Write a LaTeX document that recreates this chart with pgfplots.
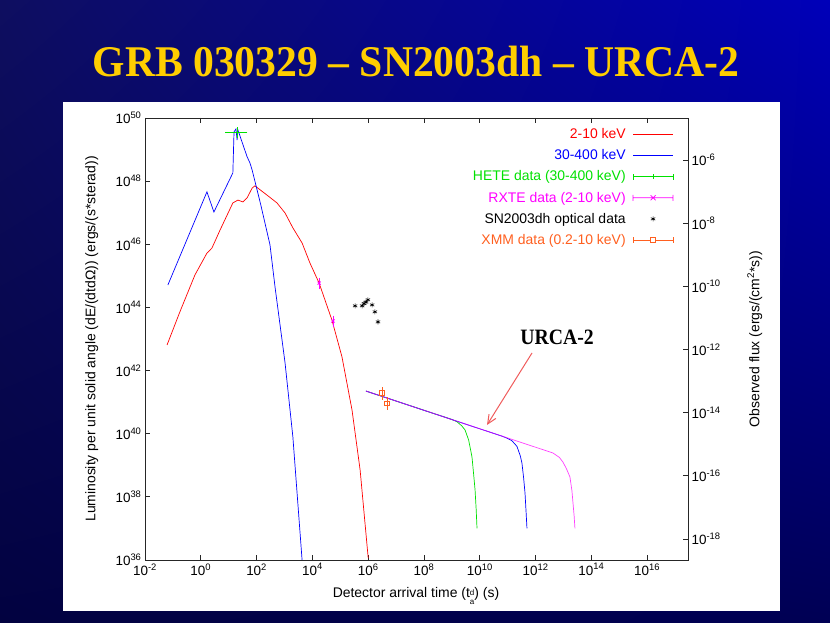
\documentclass[border=0pt]{standalone}
\usepackage{pgfplots}
\pgfplotsset{compat=1.18}
\usepackage{fontspec}
\setmainfont{Liberation Sans}
\newfontfamily\titlefont{Liberation Serif}
\usetikzlibrary{shadings,arrows.meta}
\definecolor{bgA}{RGB}{14,14,96}
\definecolor{bgB}{RGB}{0,0,185}
\definecolor{bgC}{RGB}{2,2,64}
\definecolor{bgD}{RGB}{0,0,84}
\definecolor{ttl}{RGB}{255,206,0}
\definecolor{gred}{RGB}{255,0,0}
\definecolor{gblue}{RGB}{0,0,255}
\definecolor{ggreen}{RGB}{0,225,0}
\definecolor{gmag}{RGB}{255,0,255}
\definecolor{gorange}{RGB}{255,96,32}
\definecolor{arrowred}{RGB}{240,90,90}
\begin{document}
\begin{tikzpicture}[x=1bp,y=1bp]
\shade[upper left=bgA, upper right=bgB, lower left=bgC, lower right=bgD] (0,0) rectangle (830,623);
\fill[white] (63,12) rectangle (780,521);
\node[text=ttl, inner sep=0pt] at (416,561) {\scalebox{0.95}[1]{\titlefont\bfseries\fontsize{44}{50}\selectfont GRB 030329 – SN2003dh – URCA-2}};
\begin{axis}[
  at={(145bp,63bp)}, anchor=south west,
  scale only axis, width=543bp, height=442bp,
  xmode=log, ymode=log,
  xmin=1e-2, xmax=2.9e17, ymin=1e36, ymax=1e50,
  xtick={1e-2,1e0,1e2,1e4,1e6,1e8,1e10,1e12,1e14,1e16},
  xticklabels={10\textsuperscript{-2},10\textsuperscript{0},10\textsuperscript{2},10\textsuperscript{4},10\textsuperscript{6},10\textsuperscript{8},10\textsuperscript{10},10\textsuperscript{12},10\textsuperscript{14},10\textsuperscript{16}},
  ytick={1e36,1e38,1e40,1e42,1e44,1e46,1e48,1e50},
  yticklabels={10\textsuperscript{36},10\textsuperscript{38},10\textsuperscript{40},10\textsuperscript{42},10\textsuperscript{44},10\textsuperscript{46},10\textsuperscript{48},10\textsuperscript{50}},
  xminorticks=false, yminorticks=false,
  ytick pos=left, xtick pos=both,
  tick align=inside, major tick length=5bp,
  tick style={black!85, line width=0.9pt},
  axis line style={black!85, line width=0.9pt},
  ticklabel style={font=\fontsize{13.5}{15}\selectfont},
  xlabel={Detector arrival time (t\raisebox{-0.3ex}{\fontsize{8}{9}\selectfont\begin{tabular}[c]{@{}l@{}}d\\a\end{tabular}}) (s)},
  ylabel={Luminosity per unit solid angle (dE/(dtdΩ)) (ergs/(s*sterad))},
  every axis x label/.style={at={(axis description cs:0.499,-0.084)}, anchor=center, font=\fontsize{14}{16}\selectfont},
  every axis y label/.style={at={(axis description cs:-0.098,0.5)}, anchor=center, rotate=90, font=\fontsize{14}{16}\selectfont},
  legend style={draw=none, fill=none, at={(axis description cs:0.979,0.983)}, anchor=north east,
    font=\fontsize{14}{16}\selectfont, row sep=7.5bp, nodes={inner sep=1bp}},
  legend cell align=right,
  legend plot pos=right,
]
% URCA-2 curves
\addplot[ggreen, line width=0.7pt, forget plot] coordinates {
(8.32e5,2.24e41) (1e9,2.82e40) (1.51e9,2.40e40) (2.24e9,1.78e40) (2.95e9,1.32e40) (3.98e9,6.31e39) (5.25e9,1.82e39) (6.03e9,5.01e38) (6.76e9,1.66e38) (7.41e9,3.98e37) (7.94e9,1.0e37)};
\addplot[gblue, line width=0.7pt, forget plot] coordinates {
(8.32e5,2.24e41) (6.31e10,8.32e39) (9.33e10,7.24e39) (1.41e11,6.03e39) (2.14e11,3.98e39) (2.82e11,2.0e39) (3.24e11,1.17e39) (3.72e11,3.98e38) (4.17e11,1.32e38) (4.57e11,3.16e37) (4.90e11,1.0e37)};
\addplot[gmag, line width=0.7pt, opacity=0.75, forget plot] coordinates {
(8.32e5,2.24e41) (4.17e12,2.45e39) (7.08e12,1.78e39) (9.55e12,1.26e39) (1.26e13,7.94e38) (1.70e13,4.27e38) (2.0e13,1.58e38) (2.19e13,6.31e37) (2.40e13,2.51e37) (2.57e13,1.0e37)};
% 2-10 keV
\addplot[gred, line width=0.7pt,
  legend image code/.code={\path (0bp,0bp); \draw[gred, line width=0.7pt] (6bp,0bp) -- (46bp,0bp);}] coordinates {
(6.17e-2,6.46e42) (0.178,7.24e43) (0.617,1.07e45) (1.66,5.25e45) (2.51,7.59e45) (4.90,2.82e46) (14.1,2.04e47) (21.4,2.51e47) (32.4,2.19e47) (45.7,2.95e47) (69.2,6.03e47) (87.1,7.08e47) (234,3.63e47) (537,2.04e47) (1047,9.77e46) (1995,3.31e46) (4266,1.10e46) (8128,2.57e45) (1.74e4,5.89e44) (5.01e4,3.98e43) (1.15e5,2.69e42) (2.63e5,5.62e40) (5.13e5,7.08e38) (1.0e6,1.15e36)};
\addlegendentry{\textcolor{gred}{2-10 keV}}
% 30-400 keV
\addplot[gblue, line width=0.7pt,
  legend image code/.code={\path (0bp,0bp); \draw[gblue, line width=0.7pt] (6bp,0bp) -- (46bp,0bp);}] coordinates {
(6.61e-2,5.13e44) (1.66,4.57e47) (2.95,1.05e47) (14.1,1.82e48) (15.5,3.63e49) (18.2,4.47e49) (20.0,2.00e49) (21.4,4.17e49) (45.7,5.89e48) (57.5,3.80e48) (69.2,2.24e48) (141,1.78e47) (302,9.55e45) (457,4.47e44) (1047,1.74e42) (1995,7.94e39) (4266,1.0e36)};
\addlegendentry{\textcolor{gblue}{30-400 keV}}
% HETE
\addplot[ggreen, line width=0.7pt, only marks, mark=+, mark size=2.5,
  error bars/.cd, x dir=both, x explicit, y dir=both, y explicit,
  error bar style={ggreen, line width=0.7pt}, error mark options={ggreen, mark size=2.5, line width=0.7pt},
  /pgfplots/legend image code/.code={\path (0bp,0bp); \draw[ggreen, line width=0.7pt] (6bp,0bp) -- (46bp,0bp) (6bp,-3bp) -- (6bp,3bp) (46bp,-3bp) -- (46bp,3bp) (26bp,-2.5bp) -- (26bp,2.5bp);}]
  coordinates {(20,3.39e49) += (18,0.85e49) -= (10.67,0.70e49)};
\addlegendentry{\textcolor{ggreen}{HETE data (30-400 keV)}}
% RXTE
\addplot[gmag, line width=0.8pt, only marks, mark=x, mark size=2.2,
  error bars/.cd, y dir=both, y explicit,
  error bar style={gmag, line width=0.7pt}, error mark options={gmag, mark size=2, line width=0.7pt},
  /pgfplots/legend image code/.code={\path (0bp,0bp); \draw[gmag, line width=0.7pt] (6bp,0bp) -- (46bp,0bp) (6bp,-3bp) -- (6bp,3bp) (46bp,-3bp) -- (46bp,3bp) (23.5bp,-2.5bp) -- (28.5bp,2.5bp) (23.5bp,2.5bp) -- (28.5bp,-2.5bp);}]
  coordinates {(1.74e4,5.89e44) +- (0,1.5e44) (5.50e4,3.72e43) +- (0,1.0e43)};
\addlegendentry{\textcolor{gmag}{RXTE data (2-10 keV)}}
% SN2003dh
\addplot[black, only marks, mark=asterisk, mark size=2.5, line width=0.6pt,
  legend image code/.code={\path (0bp,0bp) (46bp,0bp); \draw[black, line width=0.6pt] (26bp,-2.5bp) -- (26bp,2.5bp) (23.8bp,-1.25bp) -- (28.2bp,1.25bp) (23.8bp,1.25bp) -- (28.2bp,-1.25bp);}]
  coordinates {(3.39e5,1.12e44) (6.03e5,1.12e44) (7.08e5,1.32e44) (8.32e5,1.48e44) (9.77e5,1.74e44) (1.38e6,1.20e44) (1.74e6,7.24e43) (2.24e6,3.47e43)};
\addlegendentry{\textcolor{black}{SN2003dh optical data}}
% XMM
\addplot[gorange, line width=0.7pt, only marks, mark=square, mark size=2.2,
  error bars/.cd, y dir=both, y explicit,
  error bar style={gorange, line width=0.7pt}, error mark options={gorange, mark size=2, line width=0.7pt},
  /pgfplots/legend image code/.code={\path (0bp,0bp); \draw[gorange, line width=0.7pt] (6bp,0bp) -- (46bp,0bp) (6bp,-3bp) -- (6bp,3bp) (46bp,-3bp) -- (46bp,3bp); \draw[gorange, line width=0.7pt, fill=white] (23.5bp,-2.5bp) rectangle (28.5bp,2.5bp);}]
  coordinates {(3.09e6,1.95e41) +- (0,0.6e41) (4.68e6,9.33e40) +- (0,2.8e40)};
\addlegendentry{\textcolor{gorange}{XMM data (0.2-10 keV)}}
\end{axis}
\begin{axis}[
  at={(145bp,63bp)}, anchor=south west,
  scale only axis, width=543bp, height=442bp,
  xmode=log, ymode=log,
  xmin=1e-2, xmax=2.9e17, ymin=2.154e-19, ymax=2.154e-5,
  axis x line=none, axis y line*=right,
  ytick={1e-18,1e-16,1e-14,1e-12,1e-10,1e-8,1e-6},
  yticklabels={10\textsuperscript{-18},10\textsuperscript{-16},10\textsuperscript{-14},10\textsuperscript{-12},10\textsuperscript{-10},10\textsuperscript{-8},10\textsuperscript{-6}},
  yminorticks=false,
  tick align=inside, major tick length=5bp,
  tick style={black!85, line width=0.9pt},
  axis line style={black!85, line width=0.9pt},
  ticklabel style={font=\fontsize{13.5}{15}\selectfont},
  ylabel={Observed flux (ergs/(cm\textsuperscript{2}*s))},
  every axis y label/.style={at={(axis description cs:1.123,0.5)}, anchor=center, rotate=90, font=\fontsize{14}{16}\selectfont},
]
\end{axis}
\node[inner sep=0pt] at (557,286) {\scalebox{0.9}[1]{\titlefont\bfseries\fontsize{22}{26}\selectfont URCA-2}};
\draw[arrowred, line width=1pt, -{Straight Barb[length=9bp,width=8bp]}] (532,270) -- (487,198);
\end{tikzpicture}
\end{document}
